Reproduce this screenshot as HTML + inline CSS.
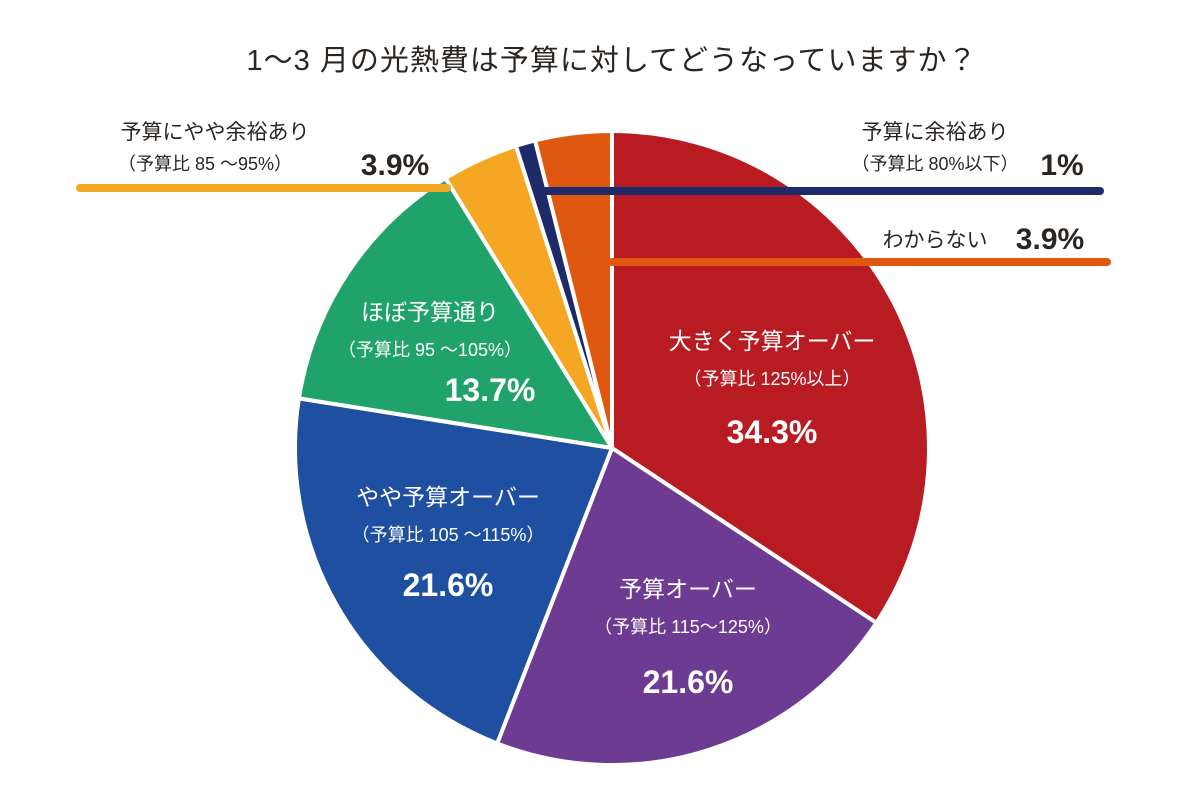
<!DOCTYPE html>
<html><head><meta charset="utf-8">
<style>
body{margin:0;background:#fff;}
svg text{font-family:"Liberation Sans","Noto Sans CJK JP",sans-serif;}
</style></head>
<body>
<svg id="chart" width="1200" height="797" viewBox="0 0 1200 797">
<text x="612" y="70" text-anchor="middle" font-size="29" fill="#2b2522" letter-spacing="1">1〜3 月の光熱費は予算に対してどうなっていますか？</text>
<g id="slices"></g>
<g id="leaders">
<line x1="80" y1="188" x2="447" y2="188" stroke="#f5a623" stroke-width="8" stroke-linecap="round"/>
<line x1="545" y1="191" x2="1100" y2="191" stroke="#1f2a6b" stroke-width="8" stroke-linecap="round"/>
<line x1="612" y1="262" x2="1107" y2="262" stroke="#e0570f" stroke-width="8" stroke-linecap="round"/>
</g>
<g fill="#2b2522">
<text x="215" y="139" text-anchor="middle" font-size="21">予算にやや余裕あり</text>
<text x="205" y="170" text-anchor="middle" font-size="18">（予算比 85 〜95%）</text>
<text x="395" y="175" text-anchor="middle" font-size="30" font-weight="bold">3.9%</text>
<text x="935" y="139" text-anchor="middle" font-size="21">予算に余裕あり</text>
<text x="935" y="170" text-anchor="middle" font-size="18">（予算比 80%以下）</text>
<text x="1062" y="175" text-anchor="middle" font-size="30" font-weight="bold">1%</text>
<text x="935" y="247" text-anchor="middle" font-size="21">わからない</text>
<text x="1050" y="249" text-anchor="middle" font-size="30" font-weight="bold">3.9%</text>
</g>
<g fill="#fff" text-anchor="middle">
<text x="772" y="349" font-size="23">大きく予算オーバー</text>
<text x="772" y="385" font-size="18">（予算比 125%以上）</text>
<text x="772" y="443" font-size="32" font-weight="bold">34.3%</text>
<text x="688" y="597" font-size="23">予算オーバー</text>
<text x="688" y="633" font-size="18">（予算比 115〜125%）</text>
<text x="688" y="693" font-size="32" font-weight="bold">21.6%</text>
<text x="448" y="505" font-size="23">やや予算オーバー</text>
<text x="448" y="541" font-size="18">（予算比 105 〜115%）</text>
<text x="448" y="596" font-size="32" font-weight="bold">21.6%</text>
<text x="430" y="320" font-size="23">ほぼ予算通り</text>
<text x="430" y="356" font-size="18">（予算比 95 〜105%）</text>
<text x="490" y="401" font-size="32" font-weight="bold">13.7%</text>
</g>
</svg>
<script>
const categories = ["大きく予算オーバー","予算オーバー","やや予算オーバー","ほぼ予算通り","予算にやや余裕あり","予算に余裕あり","わからない"];
const values = [34.3, 21.6, 21.6, 13.7, 3.9, 1, 3.9];
const colors = ["#b81c22","#6d3b91","#1f4fa0","#1fa36b","#f5a623","#1f2a6b","#e0570f"];
const names = ["slice-ookiku-over","slice-over","slice-yaya-over","slice-yosan-doori","slice-yaya-yoyu","slice-yoyu","slice-wakaranai"];
const cx=612, cy=448, r=317;
const total = values.reduce((a,b)=>a+b,0);
const g = document.getElementById('slices');
let acc=0;
function pt(a){return [cx+r*Math.sin(a), cy-r*Math.cos(a)];}
values.forEach((v,i)=>{
  const a0 = acc/total*2*Math.PI; acc+=v; const a1 = acc/total*2*Math.PI;
  const p0=pt(a0), p1=pt(a1); const large=(a1-a0)>Math.PI?1:0;
  const p=document.createElementNS('http://www.w3.org/2000/svg','path');
  p.setAttribute('d',`M${cx},${cy}L${p0[0]},${p0[1]}A${r},${r} 0 ${large} 1 ${p1[0]},${p1[1]}Z`);
  p.setAttribute('fill',colors[i]);
  p.setAttribute('stroke','#fff');
  p.setAttribute('stroke-width','4');
  p.setAttribute('stroke-linejoin','round');
  
  
  g.appendChild(p);
});
</script>
</body></html>
